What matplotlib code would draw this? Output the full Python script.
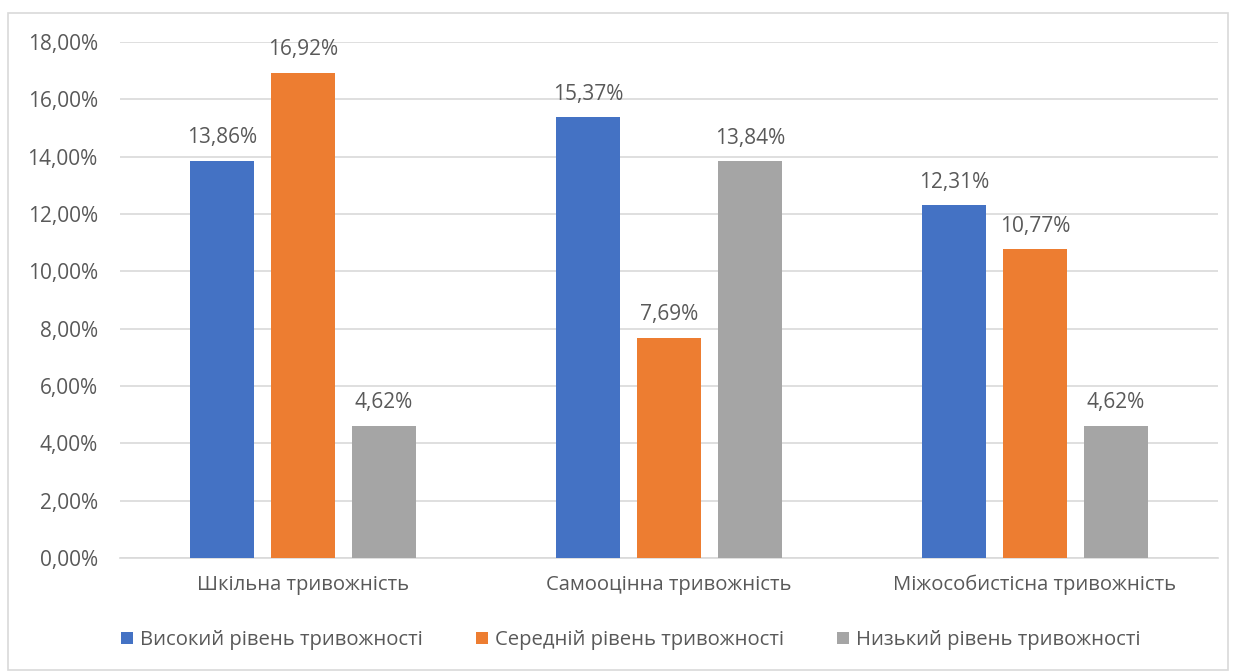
import matplotlib.pyplot as plt
import numpy as np
from matplotlib.patches import Rectangle
from matplotlib.ticker import FuncFormatter

categories = ["Шкільна тривожність", "Самооцінна тривожність", "Міжособистісна тривожність"]
series_names = ["Високий рівень тривожності", "Середній рівень тривожності", "Низький рівень тривожності"]
high = [13.86, 15.37, 12.31]
medium = [16.92, 7.69, 10.77]
low = [4.62, 13.84, 4.62]
colors = ["#4472C4", "#ED7D31", "#A5A5A5"]

TEXT = "#595959"
GRID = "#D9D9D9"
NUM_SIZE = 15
TXT_SIZE = 14.6

plt.rcParams.update({
    "font.family": ["Open Sans", "DejaVu Sans"],
    "font.size": TXT_SIZE,
})


def pct(v):
    return f"{v:.2f}%".replace(".", ",")


fig = plt.figure(figsize=(12.34, 6.71), dpi=100)
ax = fig.add_axes([0.0972, 0.1684, 0.8898, 0.769])

x = np.arange(len(categories))
width = 0.175
step = 0.2216

for i, (vals, name, col) in enumerate(zip([high, medium, low], series_names, colors)):
    pos = x + (i - 1) * step
    bars = ax.bar(pos, vals, width, color=col, label=name, zorder=3)
    for b, v in zip(bars, vals):
        ax.annotate(pct(v), (b.get_x() + b.get_width() / 2, v),
                    xytext=(0, 9), textcoords="offset points",
                    ha="center", va="bottom", color=TEXT, fontsize=NUM_SIZE)

ax.set_xlim(-0.5, 2.5)
ax.set_ylim(0, 18)
ax.set_yticks(np.arange(0, 19, 2))
ax.yaxis.set_major_formatter(FuncFormatter(lambda v, _: pct(v)))
ax.set_xticks(x)
ax.set_xticklabels(categories)
ax.grid(axis="y", color=GRID, linewidth=1.2, zorder=0)
for s in ["top", "right", "left"]:
    ax.spines[s].set_visible(False)
ax.spines["bottom"].set_color(GRID)
ax.spines["bottom"].set_linewidth(1.2)
ax.tick_params(axis="both", length=0, colors=TEXT)
ax.tick_params(axis="y", pad=16, labelsize=NUM_SIZE)
ax.tick_params(axis="x", pad=12, labelsize=TXT_SIZE)

fig.legend(loc="center", bbox_to_anchor=(0.511, 0.046), ncol=3, frameon=False,
           handlelength=0.6, handleheight=0.6, handletextpad=0.35, columnspacing=2.6,
           fontsize=TXT_SIZE, labelcolor=TEXT)

fig.patches.append(Rectangle((8 / 1234, 1 / 671), 1220 / 1234, 657 / 671,
                             transform=fig.transFigure, fill=False,
                             edgecolor=GRID, linewidth=1.2))

fig.savefig("out.png", dpi=100, facecolor="white")
